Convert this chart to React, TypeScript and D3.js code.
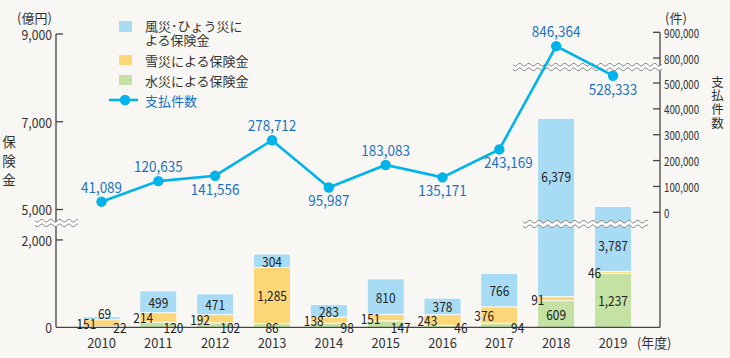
import React from "react";
import * as d3 from "d3";

const years = ["2010", "2011", "2012", "2013", "2014", "2015", "2016", "2017", "2018", "2019"];
const windHail = [69, 499, 471, 304, 283, 810, 378, 766, 6379, 3787];
const snow = [151, 214, 192, 1285, 138, 151, 243, 376, 91, 46];
const flood = [22, 120, 102, 86, 98, 147, 46, 94, 609, 1237];
const claims = [41089, 120635, 141556, 278712, 95987, 183083, 135171, 243169, 846364, 528333];
const leftTicks = [0, 2000, 5000, 7000, 9000];
const rightTicks = [0, 100000, 200000, 300000, 400000, 500000, 800000, 900000];
const claimLabelAbove = [true, true, false, true, false, true, false, false, true, false];

const W = 730;
const H = 358;
const FONT = "'Noto Sans CJK JP', 'Noto Sans', sans-serif";
const C_WIND = "#a8dcf4";
const C_SNOW = "#fdd677";
const C_FLOOD = "#c4e2a3";
const C_LINE = "#00b3ea";
const C_LABEL = "#1a72c4";
const C_AXIS = "#444";
const C_TEXT = "#333";

const X0 = 56;
const X1 = 660;
const BASE = 327.3;
const BREAK_Y = 224;

const x = d3.scalePoint<string>().domain(years).range([101.5, 613]);
const barW = 37;
// broken left axis (億円)
const yL = d3.scaleLinear().domain([0, 2200, 4800, 9000]).range([BASE, 231.2, 218.3, 34]);
// broken right axis (件)
const yR = d3.scaleLinear().domain([0, 550000, 780000, 900000]).range([212.3, 70.1, 63.2, 32.3]);

const fmt = d3.format(",");

function T(props: any) {
  const { x, y, s = 1, anchor = "middle", size = 14, fill = "#222", children, baseline = "central", weight } = props;
  return (
    <text
      transform={`translate(${x},${y}) scale(${s},1)`}
      textAnchor={anchor}
      dominantBaseline={baseline}
      fontSize={size}
      fill={fill}
      fontFamily={FONT}
      fontWeight={weight}
    >
      {children}
    </text>
  );
}

function VText(props: any) {
  const { x, y, size, spacing, children } = props;
  return (
    <text
      x={x}
      y={y}
      fontSize={size}
      fontFamily={FONT}
      fill={C_TEXT}
      textAnchor="middle"
      style={{ writingMode: "vertical-rl", letterSpacing: `${spacing}px` } as any}
    >
      {children}
    </text>
  );
}

function Break({ x0, x1, y }: { x0: number; x1: number; y: number }) {
  const pts = d3.range(x0, x1 + 0.5, 1);
  const wv = (xx: number, off: number) => y + off + 1.4 * Math.sin(((xx - x0) / 9) * 2 * Math.PI);
  const top = pts.map((p) => [p, wv(p, -2.3)] as [number, number]);
  const bot = pts.map((p) => [p, wv(p, 2.3)] as [number, number]);
  const ln = d3.line();
  const band = ln([...top, ...bot.slice().reverse()]) + "Z";
  return (
    <g>
      <path d={band} fill="#fff" stroke="none" />
      <path d={ln(top) || ""} fill="none" stroke="#8c8c8c" strokeWidth={1} />
      <path d={ln(bot) || ""} fill="none" stroke="#8c8c8c" strokeWidth={1} />
    </g>
  );
}

export default function App() {
  const bars = years.map((yr, i) => {
    const cx = x(yr) as number;
    const f = flood[i];
    const s = snow[i];
    const w = windHail[i];
    const yF0 = yL(0), yF1 = yL(f);
    const yS1 = yL(f + s);
    const yW1 = yL(f + s + w);
    return { yr, i, cx, f, s, w, yF0, yF1, yS1, yW1 };
  });

  const lineGen = d3
    .line<number>()
    .x((_, i) => x(years[i]) as number)
    .y((d) => yR(d));

  return (
    <div style={{ position: "fixed", left: 0, top: 0, width: W, height: H }}>
      <svg width={W} height={H} style={{ display: "block" }}>
        <rect x={0} y={0} width={W} height={H} fill="#f8f7f3" />

        {/* bars */}
        {bars.map((b) => (
          <g key={b.yr}>
            <rect x={b.cx - barW / 2} y={b.yF1} width={barW} height={b.yF0 - b.yF1} fill={C_FLOOD} stroke="#fff" strokeWidth={0.8} />
            <rect x={b.cx - barW / 2} y={b.yS1} width={barW} height={b.yF1 - b.yS1} fill={C_SNOW} stroke="#fff" strokeWidth={0.8} />
            <rect x={b.cx - barW / 2} y={b.yW1} width={barW} height={b.yS1 - b.yW1} fill={C_WIND} stroke="#fff" strokeWidth={0.8} />
          </g>
        ))}

        {/* axes */}
        <line x1={X0} x2={X0} y1={yL(9000)} y2={BASE} stroke={C_AXIS} strokeWidth={1.3} />
        <line x1={X1} x2={X1} y1={yR(900000)} y2={BASE} stroke={C_AXIS} strokeWidth={1.3} />
        <line x1={X0} x2={X1} y1={BASE} y2={BASE} stroke={C_AXIS} strokeWidth={1.3} />
        {leftTicks.map((t) => (
          <g key={"l" + t}>
            {t > 0 && <line x1={X0} x2={X0 + 7} y1={yL(t)} y2={yL(t)} stroke={C_AXIS} strokeWidth={1.3} />}
            <T x={52} y={yL(t)} anchor="end" size={14} s={0.87} fill={C_TEXT}>{fmt(t)}</T>
          </g>
        ))}
        {rightTicks.map((t) => (
          <g key={"r" + t}>
            <line x1={X1 - 7} x2={X1} y1={yR(t)} y2={yR(t)} stroke={C_AXIS} strokeWidth={1.3} />
            <T x={664} y={yR(t)} anchor="start" size={12.5} s={0.78} fill={C_TEXT}>{fmt(t)}</T>
          </g>
        ))}

        {/* x labels */}
        {years.map((yr) => (
          <T key={"x" + yr} x={x(yr) as number} y={342} size={14} s={0.92} fill={C_TEXT}>{yr}</T>
        ))}
        <T x={637} y={342} anchor="start" size={13.5} s={0.95} fill={C_TEXT}>(年度)</T>

        {/* unit labels */}
        <T x={17} y={17} anchor="start" size={13} fill={C_TEXT}>(億円)</T>
        <T x={665} y={17} anchor="start" size={13} fill={C_TEXT}>(件)</T>
        <VText x={9} y={164} size={13.5} spacing={5.5}>保険金</VText>
        <VText x={717.5} y={103} size={12.5} spacing={1.1}>支払件数</VText>

        {/* bar labels */}
        {bars.map((b) => {
          const out: any[] = [];
          const hW = b.yS1 - b.yW1;
          const hS = b.yF1 - b.yS1;
          const hF = b.yF0 - b.yF1;
          const snowInside = hS >= 20;
          // wind/hail
          let wy = (b.yW1 + b.yS1) / 2;
          if (b.yW1 < BREAK_Y - 3 && b.yS1 > BREAK_Y + 3) {
            const upper = BREAK_Y - 3 - b.yW1;
            const lower = b.yS1 - (BREAK_Y + 3);
            wy = upper >= lower ? (b.yW1 + BREAK_Y - 3) / 2 + 6 : (BREAK_Y + 3 + b.yS1) / 2 - 4;
          }
          if (hW >= 9) out.push(<T key="w" x={b.cx} y={wy} s={0.85}>{fmt(b.w)}</T>);
          else out.push(<T key="w" x={b.cx + 3} y={b.yW1 - 4} s={0.85}>{fmt(b.w)}</T>);
          // snow
          if (snowInside) out.push(<T key="s" x={b.cx} y={(b.yS1 + b.yF1) / 2} s={0.85}>{fmt(b.s)}</T>);
          else out.push(<T key="s" x={b.cx - 25} y={(b.yS1 + b.yF1) / 2} anchor="start" s={0.85}>{fmt(b.s)}</T>);
          // flood
          if (hF >= 20) out.push(<T key="f" x={b.cx} y={(b.yF1 + b.yF0) / 2} s={0.85}>{fmt(b.f)}</T>);
          else if (snowInside) out.push(<T key="f" x={b.cx} y={BASE - 0.5} s={0.85}>{fmt(b.f)}</T>);
          else out.push(<T key="f" x={b.cx + 25} y={BASE} anchor="end" s={0.85}>{fmt(b.f)}</T>);
          return <g key={"lb" + b.yr}>{out}</g>;
        })}

        {/* axis breaks */}
        <Break x0={35} x1={78} y={223} />
        <Break x0={523} x1={648} y={BREAK_Y} />
        <Break x0={513} x1={662} y={67} />

        {/* claims line */}
        <path d={lineGen(claims) || ""} fill="none" stroke={C_LINE} strokeWidth={2.6} />
        {claims.map((c, i) => (
          <circle key={"p" + i} cx={x(years[i]) as number} cy={yR(c)} r={5.2} fill={C_LINE} />
        ))}
        {claims.map((c, i) => {
          const px = x(years[i]) as number;
          const py = yR(c);
          const above = claimLabelAbove[i];
          const dx = i === 7 ? 9 : 0;
          return (
            <T key={"cl" + i} x={px + dx} y={above ? py - 9 : py + 19} baseline="auto" size={15} s={0.9} fill={C_LABEL}>
              {fmt(c)}
            </T>
          );
        })}

        {/* legend */}
        <rect x={119} y={21} width={13} height={11} fill={C_WIND} />
        <T x={145} y={25} anchor="start" size={13} fill={C_TEXT}>風災･ひょう災に</T>
        <T x={145} y={39} anchor="start" size={13} fill={C_TEXT}>よる保険金</T>
        <rect x={119} y={55} width={13} height={10} fill={C_SNOW} />
        <T x={145} y={60} anchor="start" size={13} fill={C_TEXT}>雪災による保険金</T>
        <rect x={119} y={75} width={13} height={10} fill={C_FLOOD} />
        <T x={145} y={80} anchor="start" size={13} fill={C_TEXT}>水災による保険金</T>
        <line x1={109} x2={138} y1={100} y2={100} stroke={C_LINE} strokeWidth={2.6} />
        <circle cx={125} cy={100} r={5.2} fill={C_LINE} />
        <T x={145} y={100} anchor="start" size={13} fill={C_LABEL}>支払件数</T>
      </svg>
    </div>
  );
}
